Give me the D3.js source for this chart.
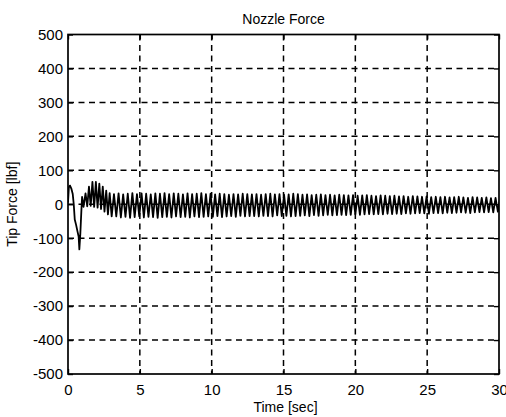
<!doctype html>
<html lang="en">
<head>
<meta charset="utf-8">
<title>Nozzle Force</title>
<script src="https://d3js.org/d3.v7.min.js"></script>
<style>
  body { margin: 0; background: #fff; }
  svg { display: block; font-family: "Liberation Sans", Arial, Helvetica, sans-serif; }
  .grid line { stroke: #000; stroke-width: 1.5; stroke-dasharray: 6 4.5; }
  .tick text { font-size: 15px; fill: #000; }
</style>
</head>
<body>
<div id="chart"></div>
<script>
// ticks
var xTicks = [0, 5, 10, 15, 20, 25, 30];
var yTicks = [-500, -400, -300, -200, -100, 0, 100, 200, 300, 400, 500];

// start-up transient, read point by point (sec, lbf)
var startT = [0, 0.06, 0.14, 0.24, 0.33, 0.40, 0.47, 0.56, 0.66, 0.74, 0.79, 0.86, 0.93, 0.98,
              1.08, 1.22, 1.34, 1.46, 1.58, 1.70, 1.82, 1.94, 2.06, 2.18, 2.30, 2.42, 2.54,
              2.66, 2.78, 2.90, 3.04];
var startF = [5, 50, 55, 45, 30, 0, -45, -60, -80, -95, -133, -85, -20, 22,
              -8, 32, -6, 52, -5, 66, -8, 66, -10, 61, -14, 52, -22,
              40, -30, 33, -36];

// afterwards: alternating peak / trough values, one every half period
var swingStart = 3.2;
var halfPeriod = 0.16;
var swing = [
  30,-36,32,-39,29,-37,31,-40,33,-38,30,-36,32,-39,31,-37,29,-38,32,-40,
  31,-38,33,-37,30,-39,32,-36,31,-38,29,-37,32,-39,30,-36,31,-38,33,-37,
  30,-36,31,-37,29,-35,31,-38,30,-36,28,-35,30,-37,29,-34,31,-36,30,-35,
  29,-35,30,-36,28,-34,30,-35,31,-36,29,-33,30,-35,28,-34,29,-36,31,-35,
  30,-34,28,-33,29,-35,27,-32,28,-34,29,-33,27,-31,28,-33,26,-32,28,-31,
  27,-32,26,-31,27,-30,25,-31,26,-30,27,-29,25,-30,24,-29,26,-30,25,-28,
  24,-29,25,-28,23,-29,24,-27,22,-28,24,-27,23,-26,22,-27,23,-28,21,-26,
  22,-26,21,-27,22,-25,20,-26,21,-25,22,-24,20,-25,19,-26,21,-24,20,-23,
  19,-24,20,-23,18,-24,19,-22,20,-23,18,-22,19,-23,17,-22,18,-21,19,-22,
  17,-22,18,-21,16,-22,17,-20,18,-21,16,-20,17,-21,15,-20,16,-19,17,-20,
  16,-20,15,-19,16,-18,14,-19,15,-18,16,-19,14,-17,15,-18,13,-17,15,-18,
  14,-17,13,-18,14,-16,12,-17,13,-16,14,-17,12,-16,13,-15,12,-16,13,-15,
  12,-16,13,-15,11,-16,12,-14,13,-15,11,-14,12,-15,11,-14,12,-13,11,-14,
  11,-14,12,-13,10,-14,11,-13,12,-12,10,-13,11,-14,10,-12,11,-13,10,-12,
  10,-13,11,-12,10,-13,9,-12,10,-11,11,-12,9,-13,10,-11,9,-12,10,-11,
  9,-12,10,-11,9,-12,10,-11,8,-12,9,-11,10,-10,9,-11,8,-12,9,-11,
  10,-11,9,-10,8,-11,9,-10,10,-11
];

var points = startT.map(function(t, i) { return [t, startF[i]]; });
swing.forEach(function(f, i) { points.push([swingStart + i * halfPeriod, f]); });

var width = 506, height = 417;
var margin = {top: 34.5, right: 7, bottom: 43, left: 68};
var w = width - margin.left - margin.right,
    h = height - margin.top - margin.bottom;

var x = d3.scaleLinear().domain([0, 30]).range([0, w]);
var y = d3.scaleLinear().domain([-500, 500]).range([h, 0]);

var svg = d3.select("#chart").append("svg")
    .attr("width", width)
    .attr("height", height);

var g = svg.append("g").attr("transform", "translate(" + margin.left + "," + margin.top + ")");

g.append("clipPath").attr("id", "clip")
  .append("rect").attr("width", w).attr("height", h);

// dashed grid
var grid = g.append("g").attr("class", "grid");
grid.selectAll(".vg").data(xTicks.slice(1, -1)).enter().append("line")
    .attr("x1", function(d) { return x(d); }).attr("x2", function(d) { return x(d); })
    .attr("y1", 0).attr("y2", h);
grid.selectAll(".hg").data(yTicks.slice(1, -1)).enter().append("line")
    .attr("y1", function(d) { return y(d); }).attr("y2", function(d) { return y(d); })
    .attr("x1", 0).attr("x2", w);

// plain hyphen minus, like the original
var fmt = function(d) { return String(d); };

// axes with inward ticks, matlab style
g.append("g").attr("transform", "translate(0," + h + ")")
    .call(d3.axisBottom(x).tickValues(xTicks).tickFormat(fmt).tickSizeInner(-5).tickSizeOuter(0).tickPadding(10));
g.append("g")
    .call(d3.axisLeft(y).tickValues(yTicks).tickFormat(fmt).tickSizeInner(-5).tickSizeOuter(0).tickPadding(5));
g.append("g")
    .call(d3.axisTop(x).tickValues(xTicks).tickSizeInner(-5).tickSizeOuter(0).tickFormat(""));
g.append("g").attr("transform", "translate(" + w + ",0)")
    .call(d3.axisRight(y).tickValues(yTicks).tickSizeInner(-5).tickSizeOuter(0).tickFormat(""));
g.selectAll(".domain").remove();
g.selectAll(".tick line").attr("stroke", "#000").attr("stroke-width", 1.4);

// signal
g.append("path")
    .datum(points)
    .attr("clip-path", "url(#clip)")
    .attr("fill", "none")
    .attr("stroke", "#000")
    .attr("stroke-width", 1.8)
    .attr("stroke-linejoin", "round")
    .attr("d", d3.line().x(function(d) { return x(d[0]); }).y(function(d) { return y(d[1]); }));

// frame
g.append("rect")
    .attr("width", w).attr("height", h)
    .attr("fill", "none").attr("stroke", "#000").attr("stroke-width", 1.7);

// labels
svg.append("text")
    .attr("x", margin.left + w / 2).attr("y", 24)
    .attr("text-anchor", "middle").attr("font-size", 14)
    .text("Nozzle Force");
svg.append("text")
    .attr("x", margin.left + w / 2 + 2).attr("y", 412)
    .attr("text-anchor", "middle").attr("font-size", 14)
    .text("Time [sec]");
svg.append("text")
    .attr("transform", "translate(17," + (margin.top + h / 2) + ") rotate(-90)")
    .attr("text-anchor", "middle").attr("font-size", 14)
    .text("Tip Force [lbf]");
</script>
</body>
</html>
